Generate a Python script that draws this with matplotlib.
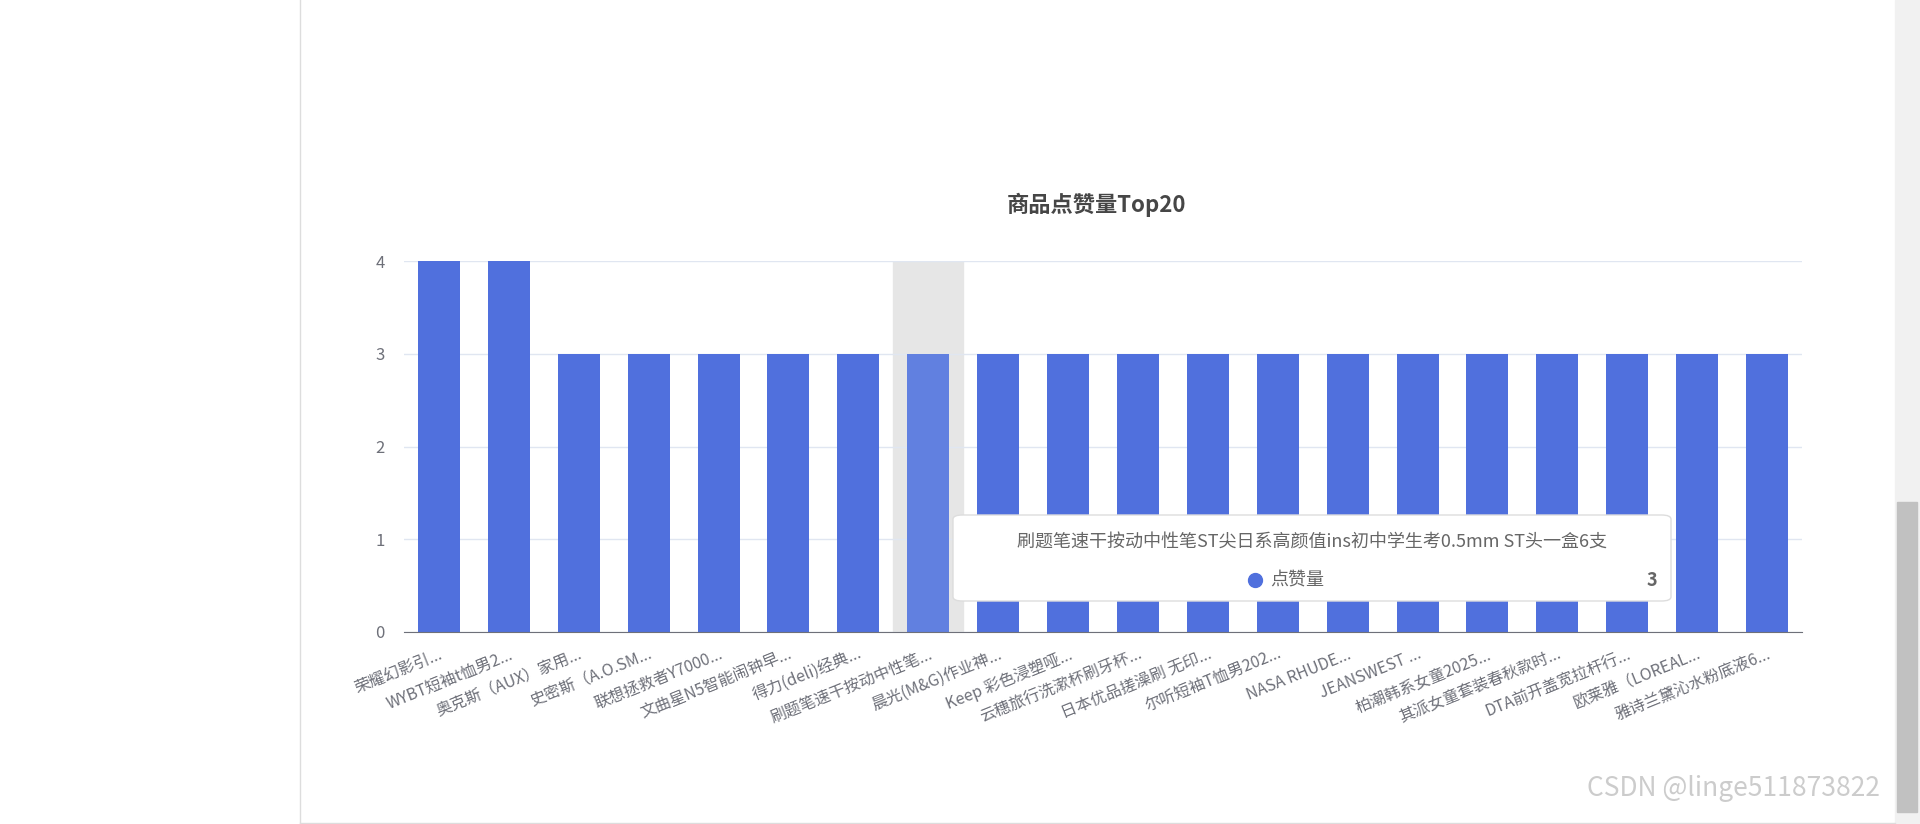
import matplotlib
matplotlib.use("Agg")
import matplotlib.pyplot as plt
from matplotlib.patches import FancyBboxPatch, Rectangle

plt.rcParams['font.family'] = ['Noto Sans CJK SC', 'DejaVu Sans']

labels = ["荣耀幻影引...", "WYBT短袖t恤男2...", "奥克斯（AUX）家用...", "史密斯（A.O.SM...",
          "联想拯救者Y7000...", "文曲星N5智能闹钟早...", "得力(deli)经典...", "刷题笔速干按动中性笔...",
          "晨光(M&G)作业神...", "Keep 彩色浸塑哑...", "云穗旅行洗漱杯刷牙杯...", "日本优品搓澡刷 无印...",
          "尔听短袖T恤男202...", "NASA RHUDE...", "JEANSWEST ...", "柏潮韩系女童2025...",
          "其派女童套装春秋款时...", "DTA前开盖宽拉杆行...", "欧莱雅（LOREAL...", "雅诗兰黛沁水粉底液6..."]
values = [4, 4, 3, 3, 3, 3, 3, 3, 3, 3, 3, 3, 3, 3, 3, 3, 3, 3, 3, 3]
series_name = "点赞量"
title = "商品点赞量Top20"
tooltip_title = "刷题笔速干按动中性笔ST尖日系高颜值ins初中学生考0.5mm ST头一盒6支"
hover_index = 7

W, H = 1920, 824
fig = plt.figure(figsize=(W/100, H/100), dpi=100)
fig.patch.set_facecolor('white')

# page decorations
fig.add_artist(plt.Line2D([300/W, 300/W], [0, 1], color='#dddddd', lw=1))
fig.add_artist(plt.Line2D([300/W, 1895/W], [1/H, 1/H], color='#dddddd', lw=1))
fig.add_artist(Rectangle((1895/W, 0), 25/W, 1, transform=fig.transFigure, color='#f1f1f1'))
fig.add_artist(Rectangle((1897/W, 12/H), 20/W, 310/H, transform=fig.transFigure, color='#c1c1c1'))

ax = fig.add_axes([404/W, 1-632/H, (1802-404)/W, (632-261)/H])
x = list(range(len(labels)))
ax.axvspan(hover_index-0.5, hover_index+0.5, color='#e6e6e6', zorder=0)
colors = ['#6180e0' if i == hover_index else '#5070dd' for i in x]
ax.bar(x, values, width=0.6, color=colors, zorder=2)
ax.set_xlim(-0.5, len(labels)-0.5)
ax.set_ylim(0, 4)
ax.set_yticks([0, 1, 2, 3, 4])
ax.grid(axis='y', color='#e0e6f1', lw=1, zorder=1)
for s in ['top', 'right', 'left']:
    ax.spines[s].set_visible(False)
ax.spines['bottom'].set_color('#6e7079')
ax.tick_params(axis='y', length=0, labelsize=12, colors='#6e7079', pad=14)
ax.set_xticks(x)
ax.set_xticklabels(labels, rotation=22, ha='right', rotation_mode='anchor', fontsize=11.5, color='#6e7079')
ax.tick_params(axis='x', length=0, pad=10)

fig.text(1097/W, 1-205/H, title, ha='center', va='center', fontsize=16, fontweight='bold', color='#464646')

# tooltip
box = FancyBboxPatch((953/W, 1-601/H), (1671-953)/W, (601-515)/H, boxstyle='round,pad=0,rounding_size=0.005',
                     transform=fig.transFigure, facecolor='white', edgecolor='#dddddd', lw=1, zorder=10)
fig.add_artist(box)
fig.text(1312/W, 1-543/H, tooltip_title, ha='center', va='center', fontsize=13, color='#666666', zorder=11)
fig.add_artist(plt.Line2D([1255/W], [1-580/H], marker='o', ms=10, color='#5070dd', transform=fig.transFigure, zorder=11))
fig.text(1270/W, 1-580/H, series_name, ha='left', va='center', fontsize=13, color='#666666', zorder=11)
fig.text(1657/W, 1-580/H, str(values[hover_index]), ha='right', va='center', fontsize=13, fontweight='bold', color='#666666', zorder=11)

fig.text(1880/W, 1-788/H, "CSDN @linge511873822", ha='right', va='center', fontsize=19, color='#cccccc')

fig.savefig('out.png', dpi=100)
